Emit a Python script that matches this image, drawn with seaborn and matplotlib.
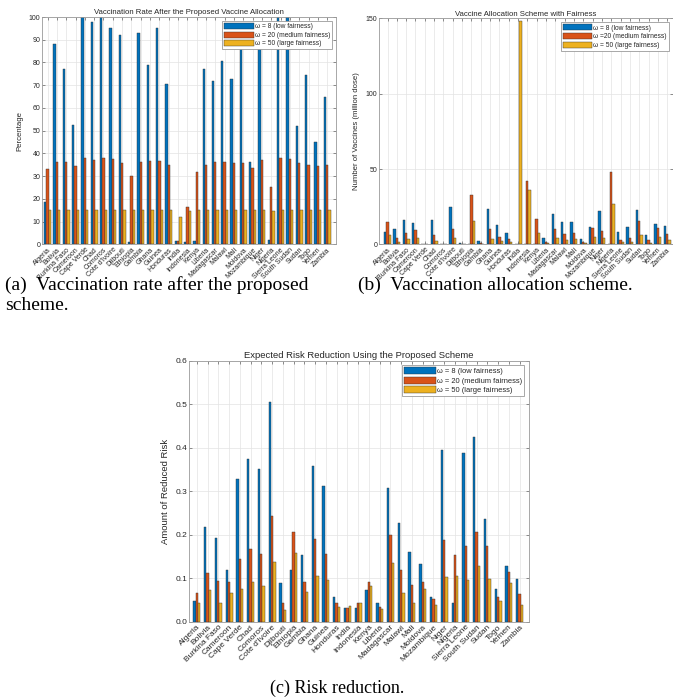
import numpy as np
import pandas as pd
import matplotlib
matplotlib.use("Agg")
import matplotlib.pyplot as plt
import seaborn as sns

countries = ["Algeria", "Bolivia", "Burkina Faso", "Cameroon", "Cape Verde", "Chad",
             "Comoros", "Cote d'Ivoire", "Djibouti", "Ethiopia", "Gambia", "Ghana",
             "Guinea", "Honduras", "India", "Indonesia", "Kenya", "Liberia",
             "Madagascar", "Malawi", "Mali", "Moldova", "Mozambique", "Niger",
             "Nigeria", "Sierra Leone", "South Sudan", "Sudan", "Togo", "Yemen", "Zambia"]

rate_w8 = [18.5, 88, 77, 52.7, 100, 98, 100, 95.3, 92.2, 1.2, 93, 78.8, 95, 70.7, 1.3, 1.0,
           1.3, 77, 72, 80.7, 72.6, 88, 36.2, 90, 2.0, 100, 100, 52, 74.5, 45.2, 65]
rate_w20 = [33.2, 36.2, 36.0, 34.6, 37.8, 37.0, 38.0, 37.5, 35.8, 30.0, 36.0, 36.6, 36.8, 34.8,
            1.3, 16.5, 32.0, 35.0, 36.0, 36.0, 35.6, 35.6, 33.7, 37.0, 25.0, 37.8, 37.5, 35.6,
            35.0, 34.3, 34.8]
rate_w50 = [14.9, 15, 15, 14.9, 15, 15, 15.1, 15, 14.9, 14.9, 15, 15, 15, 14.9, 12, 14.5, 15,
            15, 15, 15, 15, 14.9, 15, 15.1, 14.6, 15.1, 15.1, 15, 15, 14.9, 14.9]

alloc_w8 = [7.9, 10.3, 16, 14, 0.5, 16, 0.5, 25, 1, 0.3, 2, 23.2, 12.5, 7.2, 0.5, 0.5, 0.3, 4,
            20, 15, 15, 3.5, 11.4, 22, 0.3, 8, 11.2, 22.6, 6, 13.4, 12]
alloc_w20 = [14.7, 4.2, 7.7, 9.4, 0.3, 6, 0.3, 10, 0.5, 33, 0.8, 10.3, 4.8, 3.5, 0.5, 42.3,
             16.7, 1.5, 10, 6.6, 7.5, 1.3, 10.7, 9, 48.2, 3, 4.2, 15.5, 2.6, 10.5, 6.6]
alloc_w50 = [6.5, 1.8, 3.3, 4.2, 0.1, 2.4, 0.1, 4.2, 0.2, 15.8, 0.4, 3.5, 2, 1.3, 148.5, 36.2,
             7.5, 0.9, 4.2, 2.6, 3.3, 0.7, 4.8, 4, 26.5, 1.2, 1.8, 6, 1, 4.6, 2.8]

risk_w8 = [0.047, 0.217, 0.193, 0.118, 0.329, 0.373, 0.351, 0.506, 0.090, 0.118, 0.153, 0.359,
           0.313, 0.057, 0.032, 0.032, 0.072, 0.042, 0.307, 0.227, 0.160, 0.132, 0.056, 0.395,
           0.043, 0.387, 0.425, 0.237, 0.076, 0.128, 0.098]
risk_w20 = [0.065, 0.113, 0.094, 0.092, 0.144, 0.166, 0.155, 0.242, 0.042, 0.206, 0.092, 0.190,
            0.155, 0.042, 0.032, 0.042, 0.092, 0.033, 0.199, 0.118, 0.084, 0.091, 0.053, 0.187,
            0.154, 0.173, 0.207, 0.175, 0.056, 0.114, 0.063]
risk_w50 = [0.042, 0.072, 0.042, 0.065, 0.076, 0.091, 0.083, 0.138, 0.026, 0.159, 0.068, 0.105,
            0.095, 0.034, 0.037, 0.042, 0.081, 0.028, 0.136, 0.066, 0.042, 0.074, 0.038, 0.102,
            0.104, 0.095, 0.129, 0.097, 0.047, 0.090, 0.038]

labels_a = ["ω = 8 (low fairness)", "ω = 20 (medium fairness)", "ω = 50 (large fairness)"]
labels_b = ["ω = 8 (low fairness)", "ω =20 (medium fairness)", "ω = 50 (large fairness)"]
colors = ["#0072BD", "#D95319", "#EDB120"]

sns.set_theme(style="whitegrid")
plt.rcParams["font.family"] = ["Liberation Sans", "DejaVu Sans"]


def long_df(series, labels):
    return pd.DataFrame({
        "country": countries * len(series),
        "value": np.concatenate([np.asarray(s, float) for s in series]),
        "scheme": np.repeat(labels, len(countries)),
    })


def draw(ax, df, labels, width, ylim, yticks, title, ylabel, fs_tick, fs_title, fs_leg, xlim,
         hlen):
    sns.barplot(data=df, x="country", y="value", hue="scheme", hue_order=labels,
                palette=colors, width=width, saturation=1, errorbar=None,
                edgecolor="#303030", linewidth=0.3, ax=ax)
    ax.set_xlim(*xlim)
    ax.set_ylim(*ylim)
    ax.set_yticks(yticks)
    ax.set_xlabel("")
    ax.set_ylabel(ylabel, fontsize=fs_title, color="#262626")
    ax.set_title(title, fontsize=fs_title, color="#262626", pad=2)
    ax.tick_params(axis="both", direction="in", length=2, width=0.4, colors="#404040",
                   labelcolor="#262626", labelsize=fs_tick, top=True, right=True,
                   bottom=True, left=True, pad=1.5)
    ax.set_xticks(range(len(countries)))
    ax.set_xticklabels(countries, rotation=45, ha="right", rotation_mode="anchor")
    ax.grid(True, color="#e3e3e3", linewidth=0.5)
    ax.set_axisbelow(True)
    for s in ax.spines.values():
        s.set_color("#9a9a9a")
        s.set_linewidth(0.6)
    h, l = ax.get_legend_handles_labels()
    ax.legend(h, l, loc="upper right", fontsize=fs_leg, frameon=True, fancybox=False,
              edgecolor="#9a9a9a", framealpha=1, handlelength=hlen, handleheight=1.0,
              borderpad=0.3, labelspacing=0.2, handletextpad=0.15, borderaxespad=0.6)
    ax.get_legend().get_frame().set_linewidth(0.6)


fig = plt.figure(figsize=(6.73, 7.0), dpi=100)

axA = fig.add_axes([0.0629, 0.651, 0.4364, 0.3247])
draw(axA, long_df([rate_w8, rate_w20, rate_w50], labels_a), labels_a, 0.75,
     (0, 100), np.arange(0, 101, 10), "Vaccination Rate After the Proposed Vaccine Allocation",
     "Percentage", 5, 5.6, 4.8, (-0.56, 30.95), 4.4)

axB = fig.add_axes([0.5636, 0.651, 0.4363, 0.3226])
draw(axB, long_df([alloc_w8, alloc_w20, alloc_w50], labels_b), labels_b, 0.75,
     (0, 150), [0, 50, 100, 150], "Vaccine Allocation Scheme with Fairness",
     "Number of Vaccines (million dose)", 5, 5.6, 4.8, (-0.88, 30.62), 4.4)

axC = fig.add_axes([0.2813, 0.1119, 0.5043, 0.3728])
draw(axC, long_df([risk_w8, risk_w20, risk_w50], labels_a), labels_a, 0.65,
     (0, 0.6), np.round(np.arange(0, 0.61, 0.1), 1), "Expected Risk Reduction Using the Proposed Scheme",
     "Amount of Reduced Risk", 6, 6.8, 5.4, (-0.69, 30.85), 4.2)

cap = dict(family="Liberation Serif", color="black", va="center")
fig.text(5 / 673, 1 - 285 / 700, "(a)  Vaccination rate after the proposed", ha="left",
         fontsize=14, **cap)
fig.text(5 / 673, 1 - 306 / 700, "scheme.", ha="left", fontsize=14, **cap)
fig.text(358 / 673, 1 - 285 / 700, "(b)  Vaccination allocation scheme.", ha="left",
         fontsize=14, **cap)
fig.text(337 / 673, 1 - 688 / 700, "(c) Risk reduction.", ha="center", fontsize=13, **cap)

fig.savefig("out.png", dpi=100)
